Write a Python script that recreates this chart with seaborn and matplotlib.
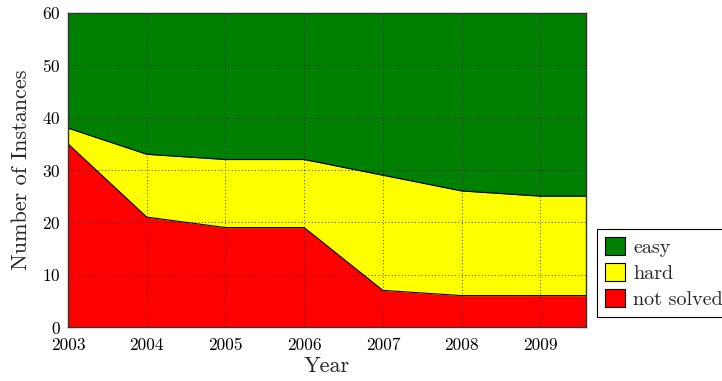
import matplotlib
matplotlib.use("Agg")
import matplotlib.pyplot as plt
import seaborn as sns
import pandas as pd

years = [2003, 2004, 2005, 2006, 2007, 2008, 2009, 2010]
not_solved = [35, 21, 19, 19, 7, 6, 6, 6]
hard = [3, 12, 13, 13, 22, 20, 19, 19]
easy = [22, 27, 28, 28, 31, 34, 35, 35]
series_names = ["not solved", "hard", "easy"]
series_colors = ["#ff0000", "#ffff00", "#008000"]
x_ticks = [2003, 2004, 2005, 2006, 2007, 2008, 2009]
y_ticks = [0, 10, 20, 30, 40, 50, 60]

sns.set_theme(style="white")
plt.rcParams["font.family"] = ["cmr10"]
plt.rcParams["mathtext.fontset"] = "cm"
plt.rcParams["axes.unicode_minus"] = False
plt.rcParams["axes.formatter.use_mathtext"] = True

df = pd.DataFrame({"year": years, "not solved": not_solved, "hard": hard, "easy": easy})

fig = plt.figure(figsize=(7.22, 3.81), dpi=100)
ax = fig.add_axes([0.0942, 0.1417, 0.7174, 0.8242])

stack = ax.stackplot(df["year"], df["not solved"], df["hard"], df["easy"],
                     colors=series_colors, linewidth=0, zorder=1)

# boundary lines between the stacked layers
cum = df[series_names].cumsum(axis=1)
for name in series_names[:-1]:
    sns.lineplot(x=df["year"], y=cum[name], ax=ax, color="black",
                 linewidth=0.8, zorder=3, legend=False)

ax.set_xlim(2003, 2009.58)
ax.set_ylim(0, 60)
ax.set_xticks(x_ticks)
ax.set_yticks(y_ticks)
ax.set_xticklabels([str(t) for t in x_ticks])
ax.grid(True, color="black", linestyle=(0, (1, 3)), linewidth=0.6, zorder=4)
ax.set_axisbelow(False)
for sp in ax.spines.values():
    sp.set_color("#333333")
    sp.set_linewidth(1.0)
    sp.set_zorder(5)
ax.tick_params(axis="both", labelsize=12.5, colors="black", length=0)
ax.tick_params(axis="x", pad=8)
ax.tick_params(axis="y", pad=5)
for lbl in ax.get_yticklabels():
    lbl.set_verticalalignment("center_baseline")

ax.set_xlabel("Year", fontsize=16, labelpad=2)
ax.set_ylabel("Number of Instances", fontsize=16, labelpad=8)

legend_handles = [stack[2], stack[1], stack[0]]
leg = fig.legend(legend_handles, ["easy", "hard", "not solved"], loc="lower left",
                 bbox_to_anchor=(0.827, 0.168), fontsize=14.5, frameon=True,
                 fancybox=False, edgecolor="black", framealpha=1,
                 handlelength=1.0, handleheight=1.0, handletextpad=0.4,
                 labelspacing=0.3, borderpad=0.4, borderaxespad=0)
leg.get_frame().set_linewidth(0.8)
for p in leg.get_patches():
    p.set_edgecolor("black")
    p.set_linewidth(0.8)

fig.savefig("out.png", dpi=100)
